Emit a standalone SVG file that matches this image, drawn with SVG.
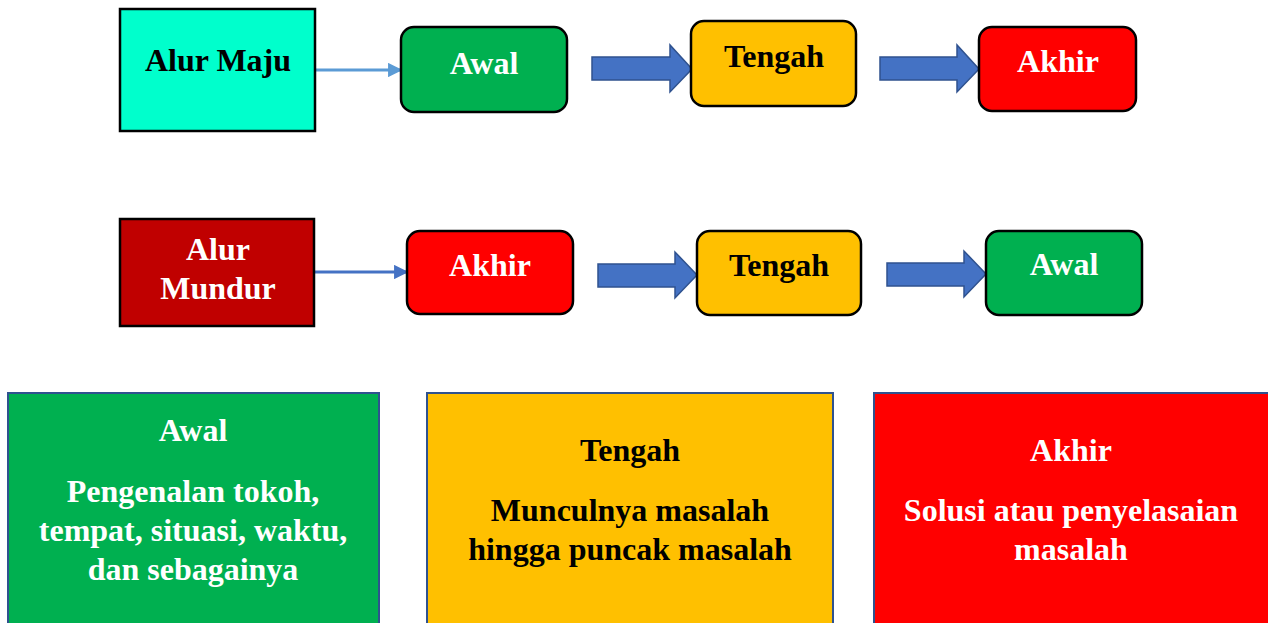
<svg xmlns="http://www.w3.org/2000/svg" width="1268" height="623" viewBox="0 0 1268 623">
<defs>
<style>
text{font-family:"Liberation Serif","Times New Roman",serif;font-weight:bold;font-size:32px;text-anchor:middle}
.w{fill:#ffffff}.b{fill:#000000}
.d{font-size:32px}
.node{stroke:#000;stroke-width:2.5}
.big{stroke:#2F528F;stroke-width:2}
.thin{stroke:#5B9BD5;stroke-width:3;fill:none}
.block{fill:#4472C4;stroke:#2F528F;stroke-width:1.5}
</style>
<marker id="ah" viewBox="0 0 10 10" refX="9" refY="5" markerWidth="4.8" markerHeight="4.8" orient="auto" markerUnits="strokeWidth">
<path d="M0,0 L10,5 L0,10 z" fill="#5B9BD5"/>
</marker>
<marker id="ah2" viewBox="0 0 10 10" refX="9" refY="5" markerWidth="4.8" markerHeight="4.8" orient="auto" markerUnits="strokeWidth">
<path d="M0,0 L10,5 L0,10 z" fill="#4472C4"/>
</marker>
</defs>
<rect width="1268" height="623" fill="#ffffff"/>

<g id="connectors">
<line class="thin" x1="315" y1="70" x2="401" y2="70" marker-end="url(#ah)"/>
<path class="block" d="M592,57 H670 V45 L692,69 L670,92 V80 H592 Z"/>
<path class="block" d="M880,57 H957 V45 L979,69 L957,92 V80 H880 Z"/>
<line x1="315" y1="272" x2="407" y2="272" stroke="#4472C4" stroke-width="3" marker-end="url(#ah2)"/>
<path class="block" d="M598,264 H675 V252 L697,275 L675,298 V287 H598 Z"/>
<path class="block" d="M887,263 H964 V251 L986,274 L964,297 V286 H887 Z"/>
</g>

<g id="alur-maju">
<rect class="node" x="120" y="9" width="195" height="122" fill="#00FFCC"/>
<text class="b" x="218" y="71">Alur Maju</text>
</g>
<g id="awal1">
<rect class="node" x="401" y="27" width="166" height="85" rx="13" fill="#00B050"/>
<text class="w" x="484" y="74">Awal</text>
</g>
<g id="tengah1">
<rect class="node" x="691" y="21" width="165" height="85" rx="13" fill="#FFC000"/>
<text class="b" x="774" y="67">Tengah</text>
</g>
<g id="akhir1">
<rect class="node" x="979" y="27" width="157" height="84" rx="13" fill="#FF0000"/>
<text class="w" x="1058" y="72">Akhir</text>
</g>

<g id="alur-mundur">
<rect class="node" x="120" y="219" width="194" height="107" fill="#C00000"/>
<text class="w" x="218" y="260">Alur</text>
<text class="w" x="218" y="299">Mundur</text>
</g>
<g id="akhir2">
<rect class="node" x="407" y="231" width="166" height="83" rx="13" fill="#FF0000"/>
<text class="w" x="490" y="276">Akhir</text>
</g>
<g id="tengah2">
<rect class="node" x="697" y="231" width="164" height="84" rx="13" fill="#FFC000"/>
<text class="b" x="779" y="276">Tengah</text>
</g>
<g id="awal2">
<rect class="node" x="986" y="231" width="156" height="84" rx="13" fill="#00B050"/>
<text class="w" x="1064" y="275">Awal</text>
</g>

<g id="desc-awal">
<rect class="big" x="8" y="393" width="371" height="240" fill="#00B050"/>
<text class="w" x="193" y="441">Awal</text>
<text class="w d" x="193" y="502">Pengenalan tokoh,</text>
<text class="w d" x="193" y="541">tempat, situasi, waktu,</text>
<text class="w d" x="193" y="580">dan sebagainya</text>
</g>
<g id="desc-tengah">
<rect class="big" x="427" y="393" width="406" height="240" fill="#FFC000"/>
<text class="b" x="630" y="461">Tengah</text>
<text class="b d" x="630" y="521">Munculnya masalah</text>
<text class="b d" x="630" y="560">hingga puncak masalah</text>
</g>
<g id="desc-akhir">
<rect class="big" x="874" y="393" width="400" height="240" fill="#FF0000"/>
<text class="w" x="1071" y="461">Akhir</text>
<text class="w d" x="1071" y="521">Solusi atau penyelasaian</text>
<text class="w d" x="1071" y="560">masalah</text>
</g>
</svg>
